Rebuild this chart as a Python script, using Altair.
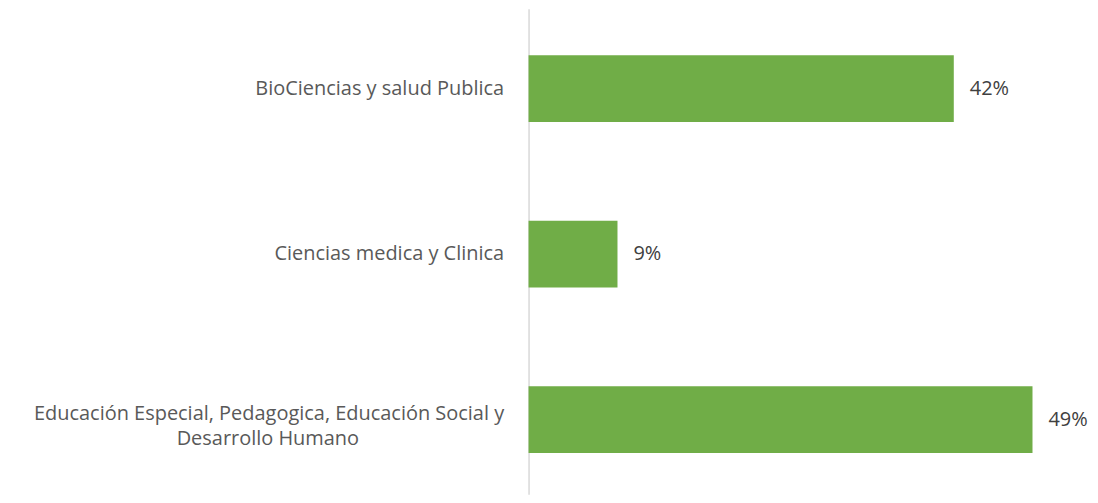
import altair as alt
import pandas as pd

categories = [
    "BioCiencias y salud Publica",
    "Ciencias medica y Clinica",
    "Educación Especial, Pedagogica, Educación Social y\nDesarrollo Humano",
]
values = [0.416, 0.087, 0.493]

# Excel centres the wrapped lines of a label; pad the short line so it sits centred
NBSP = "\u00a0"
ZWSP = "\u200b"
def centred(label, pad=28):
    lines = label.split("\n")
    if len(lines) == 2:
        return lines[0] + "\n" + lines[1] + NBSP * pad + ZWSP
    return label

df = pd.DataFrame({"cat": [centred(c) for c in categories], "val": values})
order = list(df["cat"])

FONT = "Open Sans"
FS = 20

y_enc = alt.Y(
    "cat:N",
    sort=order,
    title=None,
    scale=alt.Scale(paddingInner=0.596, paddingOuter=0.265, align=0.53),
    axis=alt.Axis(
        domain=True,
        domainColor="#d9d9d9",
        domainWidth=1.5,
        ticks=False,
        labelPadding=25,
        labelFont=FONT,
        labelFontSize=FS,
        labelColor="#595959",
        labelLineHeight=25,
        labelLimit=600,
        labelOffset={"condition": {"test": "indexof(datum.label, '\\n') >= 0", "value": -6}, "value": 0},
        labelExpr="split(datum.label, '\\n')",
    ),
)
x_enc = alt.X(
    "val:Q",
    title=None,
    scale=alt.Scale(domain=[0, 0.5395], nice=False),
    axis=None,
)

bars = alt.Chart(df).mark_bar(color="#70ad47").encode(y=y_enc, x=x_enc)
labels = alt.Chart(df).mark_text(
    align="left", baseline="middle", dx=16, font=FONT, fontSize=FS, color="#404040"
).encode(y=alt.Y("cat:N", sort=order), x="val:Q", text=alt.Text("val:Q", format=".0%"))

chart = (
    alt.layer(bars, labels)
    .properties(
        width=553,
        height=487,
        autosize=alt.AutoSizeParams(type="none"),
        padding={"left": 522, "top": 0, "right": 10, "bottom": 0},
    )
    .configure_view(stroke=None)
)

chart.save("out.html", embed_options={"renderer": "svg", "actions": False})
